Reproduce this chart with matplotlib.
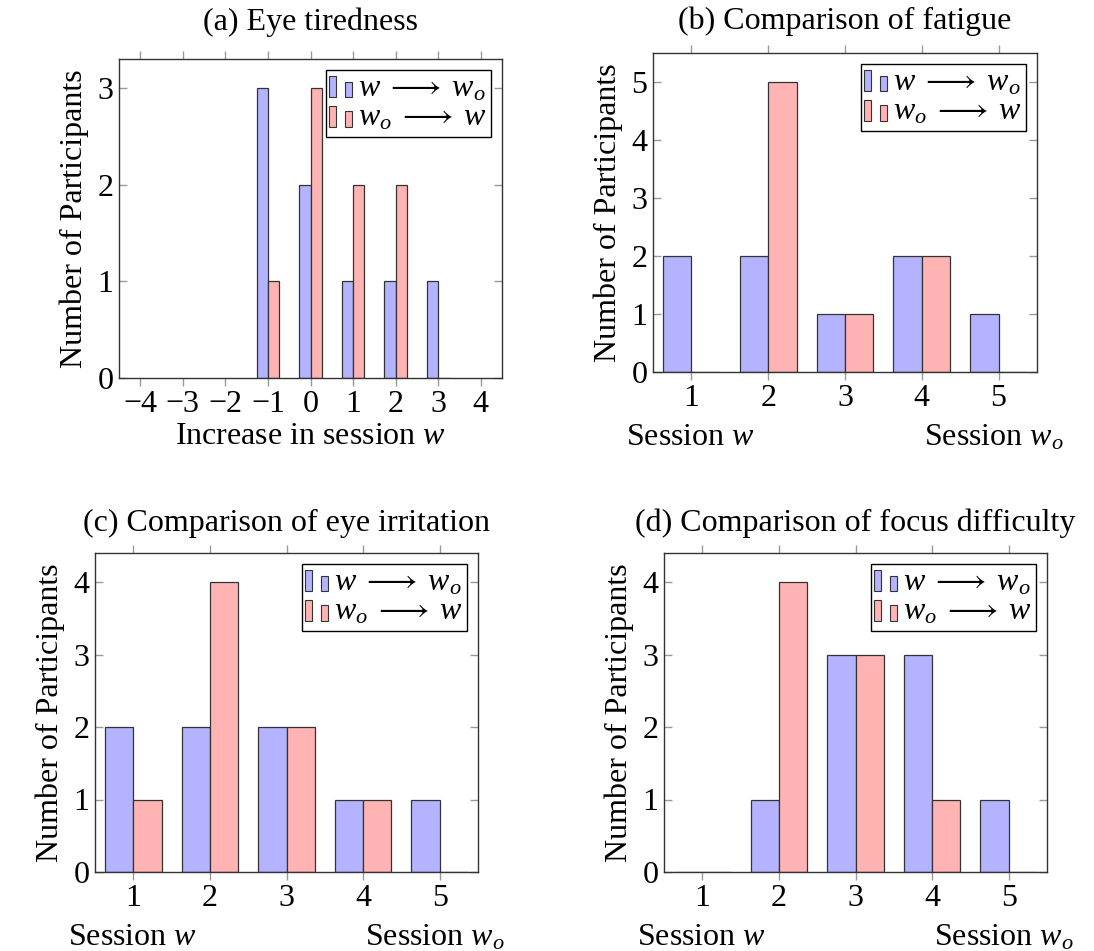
import matplotlib
matplotlib.use("Agg")
import matplotlib.pyplot as plt
from matplotlib.patches import Rectangle
from matplotlib.legend_handler import HandlerBase
import numpy as np

plt.rcParams['font.family'] = ['Liberation Serif', 'DejaVu Serif']
plt.rcParams['mathtext.fontset'] = 'custom'
plt.rcParams['mathtext.rm'] = 'Liberation Serif'
plt.rcParams['mathtext.it'] = 'Liberation Serif:italic'

# ---- data ----
a_x = [-1, 0, 1, 2, 3]
a_blue = [3, 2, 1, 1, 1]
a_red = [1, 3, 2, 2, 0]
a_ticks = [-4, -3, -2, -1, 0, 1, 2, 3, 4]

sess = [1, 2, 3, 4, 5]
b_blue = [2, 2, 1, 2, 1]
b_red = [0, 5, 1, 2, 0]
c_blue = [2, 2, 2, 1, 1]
c_red = [1, 4, 2, 1, 0]
d_blue = [0, 1, 3, 3, 1]
d_red = [0, 4, 3, 1, 0]

titles = ["(a) Eye tiredness", "(b) Comparison of fatigue",
          "(c) Comparison of eye irritation", "(d) Comparison of focus difficulty"]
lab_blue = r"$w\;\longrightarrow\;w_o$"
lab_red = r"$w_o\;\longrightarrow\;w$"
ylabel = "Number of Participants"

BLUE = "#b3b3ff"
RED = "#ffb3b3"
EDGE = "#333333"
FS = 23

W, H = 1094, 951
fig = plt.figure(figsize=(W / 100, H / 100), dpi=100)


def ax_at(l, t, r, b):
    return fig.add_axes([l / W, 1 - b / H, (r - l) / W, (b - t) / H])


class TwoBar(HandlerBase):
    def create_artists(self, legend, orig_handle, xdescent, ydescent,
                       width, height, fontsize, trans):
        fc = orig_handle.get_facecolor()
        x0, y0 = -xdescent, -ydescent - 0.05 * height
        bw = width * 0.3
        r1 = Rectangle((x0, y0), bw, height * 0.95, facecolor=fc,
                       edgecolor=EDGE, lw=0.8, transform=trans)
        r2 = Rectangle((x0 + width - bw, y0), bw, height * 0.7, facecolor=fc,
                       edgecolor=EDGE, lw=0.8, transform=trans)
        return [r1, r2]


def style(ax, ymax, xlim, xticks):
    ax.set_xlim(*xlim)
    ax.set_ylim(0, ymax)
    ax.set_xticks(xticks)
    ax.set_yticks(range(int(ymax) + 1))
    ax.tick_params(axis='x', direction='out', top=True, bottom=True,
                   length=6, width=1, color='#999999', labelsize=FS, pad=3)
    ax.tick_params(axis='y', direction='in', left=True, right=True,
                   length=6, width=1, color='#999999', labelsize=FS, pad=4)
    for s in ax.spines.values():
        s.set_color(EDGE)
        s.set_linewidth(1.0)
    ax.set_ylabel(ylabel, fontsize=FS, labelpad=6)


def bars(ax, x, blue, red, w):
    x = np.asarray(x, dtype=float)
    hb = ax.bar(x - w / 2, blue, width=w, color=BLUE, edgecolor=EDGE, lw=0.9)
    hr = ax.bar(x + w / 2, red, width=w, color=RED, edgecolor=EDGE, lw=0.9)
    leg = ax.legend([hb.patches[0], hr.patches[0]], [lab_blue, lab_red],
                    handler_map={Rectangle: TwoBar()}, loc='upper right',
                    fontsize=FS, frameon=True, fancybox=False, framealpha=1,
                    edgecolor='black', handlelength=0.7, handletextpad=0.2,
                    labelspacing=0.0, borderpad=0.12, borderaxespad=0.35)
    leg.get_frame().set_linewidth(1.0)


def session_labels(ax):
    ax.text(-0.07, -0.23, r"Session $w$", transform=ax.transAxes,
            ha='left', va='baseline', fontsize=FS)
    ax.text(1.07, -0.23, r"Session $w_o$", transform=ax.transAxes,
            ha='right', va='baseline', fontsize=FS)


# (a)
ax = ax_at(119, 59, 502, 378)
bars(ax, a_x, a_blue, a_red, 0.265)
style(ax, 3.3, (-4.5, 4.5), a_ticks)
ax.set_xticklabels([f"\u2212{abs(t)}" if t < 0 else str(t) for t in a_ticks])
ax.set_xlabel(r"Increase in session $w$", fontsize=FS, labelpad=2)
ax.set_title(titles[0], fontsize=FS, pad=21)

# (b)
ax = ax_at(653, 53, 1037, 372)
bars(ax, sess, b_blue, b_red, 0.37)
style(ax, 5.5, (0.5, 5.5), sess)
session_labels(ax)
ax.set_title(titles[1], fontsize=FS, pad=17)

# (c)
ax = ax_at(95, 553, 478, 872)
bars(ax, sess, c_blue, c_red, 0.37)
style(ax, 4.4, (0.5, 5.5), sess)
session_labels(ax)
ax.set_title(titles[2], fontsize=FS, pad=16)

# (d)
ax = ax_at(664, 553, 1047, 872)
bars(ax, sess, d_blue, d_red, 0.37)
style(ax, 4.4, (0.5, 5.5), sess)
session_labels(ax)
ax.set_title(titles[3], fontsize=FS, pad=16)

fig.savefig("out.png", dpi=100)
